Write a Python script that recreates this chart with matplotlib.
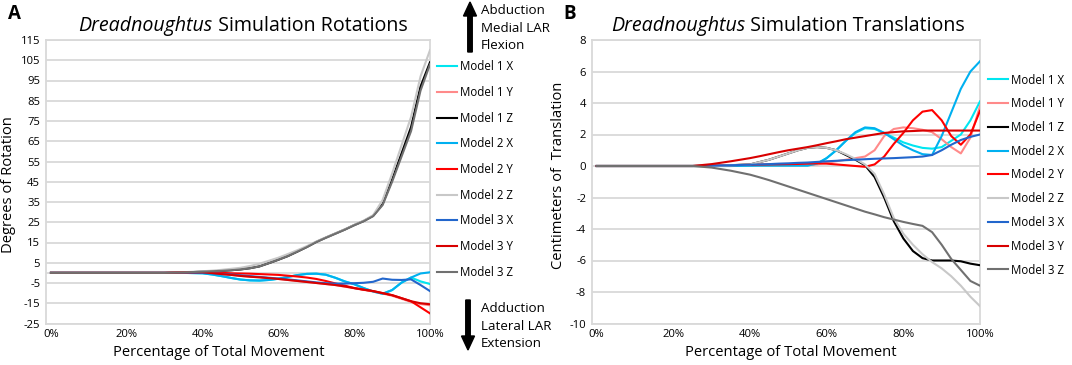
import matplotlib
matplotlib.use('Agg')
import matplotlib.pyplot as plt
from matplotlib.patches import FancyArrow
from matplotlib.transforms import IdentityTransform

plt.rcParams['font.family'] = ['Open Sans', 'DejaVu Sans']

# ---------------- data ----------------
pct = [0, 5, 10, 15, 20, 25, 30, 35, 40, 42.5, 45, 47.5, 50, 52.5, 55, 57.5, 60,
       62.5, 65, 67.5, 70, 72.5, 75, 77.5, 80, 82.5, 85, 87.5, 90, 92.5, 95, 97.5, 100]

series_names = ['Model 1 X', 'Model 1 Y', 'Model 1 Z',
                'Model 2 X', 'Model 2 Y', 'Model 2 Z',
                'Model 3 X', 'Model 3 Y', 'Model 3 Z']
series_colors = ['#00E6F0', '#FF8A8A', '#000000',
                 '#00B0F0', '#FF0000', '#C8C8C8',
                 '#2266CC', '#D80000', '#707070']

# Panel A: rotations (degrees)
rot_m1x = [0, 0, 0, 0, 0, 0, 0, 0, -0.2, -0.8, -1.6, -2.5, -3.3, -3.7, -3.8, -3.5, -2.9,
           -2.0, -1.1, -0.5, -0.4, -0.9, -2.4, -4.2, -5.6, -7.5, -9.2, -10.3, -8.5, -4.8, -2.3, -4.2, -5.5]
rot_m1y = [0, 0, 0, 0, 0, 0, 0, 0.2, 0.3, -0.1, -0.6, -1.0, -1.5, -1.9, -2.2, -2.6, -3.0,
           -3.5, -4.0, -4.5, -5.0, -5.5, -6.0, -6.8, -7.6, -8.4, -9.2, -10.2, -11.3, -12.8, -14.4, -15.4, -16.0]
rot_m1z = [0, 0, 0, 0, 0, 0, 0, 0.2, 0.6, 0.8, 1.0, 1.3, 1.7, 2.3, 3.2, 4.8, 6.5,
           8.3, 10.5, 12.8, 15.3, 17.4, 19.4, 21.4, 23.6, 25.6, 28.2, 34.0, 46.0, 59.0, 72.0, 92.0, 104.0]
rot_m2x = [0, 0, 0, 0, 0, 0, 0, 0, -0.2, -0.8, -1.6, -2.5, -3.3, -3.7, -3.8, -3.5, -2.9,
           -2.0, -1.1, -0.5, -0.4, -0.9, -2.4, -4.2, -5.6, -7.5, -9.2, -10.3, -8.5, -4.8, -2.3, -0.3, 0.3]
rot_m2y = [0, 0, 0, 0, 0, 0, 0, 0.2, 0.3, 0.2, 0.0, -0.2, -0.3, -0.4, -0.6, -0.8, -1.0,
           -1.4, -1.8, -2.3, -3.0, -4.0, -5.2, -6.3, -7.5, -8.3, -9.0, -10.0, -11.0, -12.5, -14.0, -17.0, -20.0]
rot_m2z = [0, 0, 0, 0, 0, 0, 0, 0.3, 0.8, 1.1, 1.5, 2.0, 2.5, 3.4, 4.5, 6.0, 7.5,
           9.3, 11.2, 13.2, 15.5, 17.5, 19.5, 21.5, 23.7, 25.8, 28.5, 36.0, 49.0, 63.0, 77.0, 97.0, 110.0]
rot_m3x = [0, 0, 0, 0, 0, 0, 0, 0, 0, -0.2, -0.5, -0.8, -1.2, -1.6, -2.0, -2.4, -2.8,
           -3.2, -3.7, -4.2, -4.7, -5.1, -5.3, -5.3, -5.1, -4.9, -4.4, -2.8, -3.4, -3.5, -3.2, -6.0, -9.0]
rot_m3y = [0, 0, 0, 0, 0, 0, 0, 0.2, 0.3, -0.1, -0.6, -1.0, -1.5, -1.9, -2.2, -2.6, -3.0,
           -3.5, -4.0, -4.5, -5.0, -5.5, -6.0, -6.7, -7.5, -8.3, -9.0, -10.0, -11.0, -12.5, -14.0, -15.0, -15.5]
rot_m3z = [0, 0, 0, 0, 0, 0, 0, 0.2, 0.6, 0.8, 1.0, 1.3, 1.7, 2.3, 3.2, 4.8, 6.5,
           8.3, 10.5, 12.7, 15.2, 17.3, 19.3, 21.3, 23.5, 25.5, 28.0, 33.5, 45.0, 57.5, 70.0, 90.0, 103.0]

# Panel B: translations (cm)
tr_m1x = [0, 0, 0, 0, 0, 0, 0, 0, 0.02, 0.03, 0.03, 0.03, 0.03, 0.03, 0.03, 0.15, 0.5,
          1.0, 1.6, 2.1, 2.4, 2.35, 2.1, 1.8, 1.5, 1.3, 1.15, 1.1, 1.2, 1.6, 2.0, 2.9, 4.1]
tr_m1y = [0, 0, 0, 0, 0, 0, 0, 0.02, 0.04, 0.05, 0.05, 0.05, 0.05, 0.05, 0.05, 0.1, 0.2,
          0.3, 0.4, 0.5, 0.6, 1.0, 1.9, 2.35, 2.45, 2.4, 2.3, 2.15, 1.7, 1.2, 0.8, 1.8, 3.8]
tr_m1z = [0, 0, 0, 0, 0, 0, 0, 0.05, 0.1, 0.25, 0.4, 0.6, 0.8, 1.0, 1.15, 1.2, 1.15,
          1.0, 0.7, 0.4, 0.05, -0.7, -2.0, -3.5, -4.6, -5.4, -5.85, -6.0, -6.0, -6.0, -6.05, -6.2, -6.3]
tr_m2x = [0, 0, 0, 0, 0, 0, 0, 0, 0.02, 0.03, 0.03, 0.03, 0.03, 0.03, 0.03, 0.15, 0.5,
          1.0, 1.6, 2.15, 2.45, 2.4, 2.1, 1.7, 1.3, 1.0, 0.75, 0.7, 1.9, 3.4, 4.9, 6.0, 6.65]
tr_m2y = [0, 0, 0, 0, 0, 0, 0.03, 0.05, 0.08, 0.09, 0.1, 0.11, 0.12, 0.13, 0.15, 0.17, 0.15,
          0.1, 0.05, 0.0, -0.05, 0.1, 0.6, 1.4, 2.1, 2.9, 3.45, 3.55, 2.9, 1.9, 1.35, 2.0, 3.5]
tr_m2z = [0, 0, 0, 0, 0, 0, 0, 0.05, 0.1, 0.25, 0.4, 0.6, 0.8, 1.0, 1.15, 1.2, 1.15,
          1.0, 0.75, 0.45, 0.1, -0.5, -1.8, -3.3, -4.3, -5.0, -5.6, -6.1, -6.5, -7.0, -7.6, -8.3, -8.9]
tr_m3x = [0, 0, 0, 0, 0, 0, 0.02, 0.05, 0.08, 0.1, 0.12, 0.15, 0.17, 0.2, 0.22, 0.26, 0.3,
          0.33, 0.37, 0.4, 0.43, 0.46, 0.48, 0.5, 0.53, 0.56, 0.6, 0.7, 1.0, 1.35, 1.65, 1.85, 2.0]
tr_m3y = [0, 0, 0, 0, 0, 0, 0.12, 0.3, 0.5, 0.62, 0.75, 0.88, 1.0, 1.1, 1.2, 1.32, 1.45,
          1.57, 1.7, 1.8, 1.9, 2.0, 2.1, 2.15, 2.2, 2.22, 2.25, 2.25, 2.25, 2.25, 2.25, 2.25, 2.25]
tr_m3z = [0, 0, 0, 0, 0, 0, -0.1, -0.3, -0.55, -0.72, -0.9, -1.1, -1.3, -1.5, -1.7, -1.9, -2.1,
          -2.3, -2.5, -2.7, -2.9, -3.07, -3.25, -3.4, -3.55, -3.68, -3.8, -4.2, -5.0, -5.9, -6.6, -7.3, -7.6]

rot_series = [rot_m1x, rot_m1y, rot_m1z, rot_m2x, rot_m2y, rot_m2z, rot_m3x, rot_m3y, rot_m3z]
tr_series = [tr_m1x, tr_m1y, tr_m1z, tr_m2x, tr_m2y, tr_m2z, tr_m3x, tr_m3y, tr_m3z]

rot_ticks = [115, 105, 95, 85, 75, 65, 55, 45, 35, 25, 15, 5, -5, -15, -25]
tr_ticks = [8, 6, 4, 2, 0, -2, -4, -6, -8, -10]
x_ticks = [0, 20, 40, 60, 80, 100]
x_ticklabels = ['0%', '20%', '40%', '60%', '80%', '100%']

# ---------------- figure ----------------
W, H = 1072, 365
fig = plt.figure(figsize=(W / 100, H / 100), dpi=100)
renderer = fig.canvas.get_renderer()


def fx(px):
    return px / W


def fy(py):
    return 1 - py / H


def fit_size(sample, target_w, base=10.0, **kw):
    t = fig.text(0, 0, sample, fontsize=base, **kw)
    w = t.get_window_extent(renderer).width
    t.remove()
    return base * target_w / w


TICK_FS = min(fit_size('100%', 29), 10)
LEG_FS = fit_size('Model 1 X', 53)
LAB_FS = fit_size('Percentage of Total Movement', 210)
ARR_FS = fit_size('Abduction', 64)
TITLE_FS = fit_size('Simulation Rotations', 411.5 - 221)

TOP, BOT = 40, 323.5
axA = fig.add_axes([fx(45.8), fy(BOT), fx(430 - 45.8), (BOT - TOP) / H])
axB = fig.add_axes([fx(591.7), fy(BOT), fx(980 - 591.7), (BOT - TOP) / H])

GRID = '#D9D9D9'


def style(ax, yticks, ylim, xlim_left):
    ax.set_ylim(*ylim)
    ax.set_xlim(xlim_left, 100)
    ax.set_yticks(yticks)
    ax.set_yticklabels([str(t) for t in yticks])
    ax.set_xticks(x_ticks)
    ax.set_xticklabels(x_ticklabels)
    ax.yaxis.grid(True, color=GRID, lw=1.3)
    ax.set_axisbelow(True)
    ax.tick_params(length=0, labelsize=TICK_FS, colors='#000000')
    ax.tick_params(axis='y', pad=4)
    ax.tick_params(axis='x', pad=4)
    for s in ax.spines.values():
        s.set_color(GRID)
        s.set_linewidth(1.3)


style(axA, rot_ticks, (-25, 115), -1.37)
style(axB, tr_ticks, (-10, 8), -1.3)
axA.axhline(0, color=GRID, lw=1.3, zorder=1)

for name, col, vals in zip(series_names, series_colors, rot_series):
    axA.plot(pct, vals, color=col, lw=1.5, label=name, solid_joinstyle='round', zorder=3)
for name, col, vals in zip(series_names, series_colors, tr_series):
    axB.plot(pct, vals, color=col, lw=1.5, label=name, solid_joinstyle='round', zorder=3)


def place_legend(ax, x_left, y_first, y_last):
    fs_px = LEG_FS * 100 / 72
    ls = 0.9
    anchor_y = y_first - 8
    leg = None
    for _ in range(4):
        if leg is not None:
            leg.remove()
        leg = ax.legend(loc='upper left', bbox_to_anchor=(fx(x_left), fy(anchor_y)),
                        bbox_transform=fig.transFigure, frameon=False, fontsize=LEG_FS,
                        handlelength=1.75, handletextpad=0.3, labelspacing=ls,
                        borderpad=0, borderaxespad=0)
        fig.canvas.draw()
        texts = leg.get_texts()
        e0 = texts[0].get_window_extent(renderer)
        e1 = texts[-1].get_window_extent(renderer)
        c0 = H - (e0.y0 + e0.y1) / 2
        c1 = H - (e1.y0 + e1.y1) / 2
        pitch = (c1 - c0) / 8
        target = (y_last - y_first) / 8
        ls = max(0.1, ls + (target - pitch) / fs_px)
        anchor_y += (y_first - c0)
    return leg


place_legend(axA, 436.5, 66.7, 272.3)
place_legend(axB, 987.5, 80, 270)

# axis labels
fig.text(fx(219), fy(353), 'Percentage of Total Movement', ha='center', va='center', fontsize=LAB_FS)
fig.text(fx(791), fy(353), 'Percentage of Total Movement', ha='center', va='center', fontsize=LAB_FS)
fig.text(fx(9), fy(185), 'Degrees of Rotation', ha='center', va='center', rotation=90, fontsize=LAB_FS)
fig.text(fx(558), fy(175), 'Centimeters of  Translation', ha='center', va='center', rotation=90,
         fontsize=LAB_FS)


def mixed_title(cx, cy, ital, rest):
    t1 = fig.text(0, fy(cy), ital, style='italic', fontsize=TITLE_FS, ha='left', va='center')
    t2 = fig.text(0, fy(cy), rest, fontsize=TITLE_FS, ha='left', va='center')
    w1 = t1.get_window_extent(renderer).width
    w2 = t2.get_window_extent(renderer).width
    x0 = cx - (w1 + w2) / 2
    t1.set_x(fx(x0))
    t2.set_x(fx(x0 + w1))


mixed_title(243, 26, 'Dreadnoughtus', ' Simulation Rotations')
mixed_title(788, 26, 'Dreadnoughtus', ' Simulation Translations')

# panel letters
fig.text(fx(14), fy(14), 'A', fontsize=13.5, fontweight='bold', ha='center', va='center')
fig.text(fx(570), fy(14), 'B', fontsize=13.5, fontweight='bold', ha='center', va='center')

# direction arrows and notes
fig.add_artist(FancyArrow(470, H - 52, 0, 50, width=4.5, head_width=13, head_length=14,
                          length_includes_head=True, color='black', transform=IdentityTransform()))
fig.add_artist(FancyArrow(468, H - 300, 0, -50, width=4.5, head_width=13, head_length=14,
                          length_includes_head=True, color='black', transform=IdentityTransform()))
for txt, y in [('Abduction', 10.5), ('Medial LAR', 28), ('Flexion', 45.5)]:
    fig.text(fx(481), fy(y), txt, fontsize=ARR_FS, ha='left', va='center')
for txt, y in [('Adduction', 308.5), ('Lateral LAR', 326), ('Extension', 343.5)]:
    fig.text(fx(481), fy(y), txt, fontsize=ARR_FS, ha='left', va='center')

fig.savefig('out.png', dpi=100)
